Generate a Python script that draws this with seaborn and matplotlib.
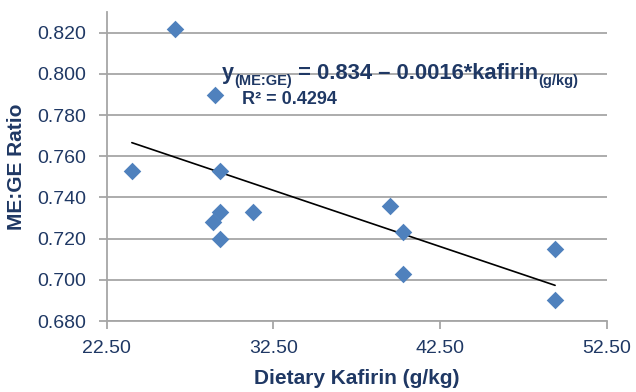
import matplotlib
matplotlib.use("Agg")
import matplotlib.pyplot as plt
import seaborn as sns
import numpy as np
import pandas as pd

kafirin = [24.0, 26.6, 29.0, 29.3, 28.9, 29.3, 29.3, 31.3, 39.5, 40.3, 40.3, 49.4, 49.4]
me_ge = [0.753, 0.822, 0.790, 0.753, 0.728, 0.733, 0.720, 0.733, 0.736, 0.723, 0.703, 0.715, 0.690]
x_ticks = [22.5, 32.5, 42.5, 52.5]
y_ticks = [0.680, 0.700, 0.720, 0.740, 0.760, 0.780, 0.800, 0.820]

df = pd.DataFrame({"kafirin": kafirin, "ratio": me_ge})

sns.set_theme(style="white")
plt.rcParams["font.family"] = ["Liberation Sans", "DejaVu Sans"]

navy = "#1F3864"
grid_c = "#A6A6A6"

fig = plt.figure(figsize=(6.36, 3.92), dpi=100)
ax = fig.add_axes([0.168, 0.181, 0.786, 0.788])

ax.set_axisbelow(True)
ax.yaxis.grid(True, color=grid_c, linewidth=1.3)
ax.xaxis.grid(False)

sns.regplot(data=df, x="kafirin", y="ratio", ax=ax, ci=None, truncate=True, marker="D",
            scatter_kws=dict(s=80, color="#4F81BD", alpha=1, linewidths=0, zorder=3),
            line_kws=dict(color="black", linewidth=1.2, zorder=2))

ax.set_xlim(22.5, 52.5)
ax.set_ylim(0.680, 0.830)
ax.set_xticks(x_ticks)
ax.set_xticklabels([f"{v:.2f}" for v in x_ticks])
ax.set_yticks(y_ticks)
ax.set_yticklabels([f"{v:.3f}" for v in y_ticks])

for s in ["top", "right"]:
    ax.spines[s].set_visible(False)
for s in ["left", "bottom"]:
    ax.spines[s].set_color(grid_c)
    ax.spines[s].set_linewidth(1.3)

ax.tick_params(axis="both", which="both", direction="out", length=6, width=1.3,
               color=grid_c, labelcolor=navy, labelsize=14)
ax.tick_params(axis="y", pad=9)
ax.tick_params(axis="x", pad=8)
ax.tick_params(bottom=True, left=True)

ax.set_xlabel("Dietary Kafirin (g/kg)", fontsize=15, fontweight="bold", color=navy)
ax.set_ylabel("ME:GE Ratio", fontsize=15, fontweight="bold", color=navy)
ax.xaxis.set_label_coords(0.5, -0.155)
ax.yaxis.set_label_coords(-0.162, 0.5)

# equation, built from pieces with subscripts
t1 = ax.text(0.229, 0.768, "y", transform=ax.transAxes, fontsize=15.5,
             fontweight="bold", color=navy, va="bottom", ha="left")
t2 = ax.annotate("(ME:GE)", xy=(1, 0), xycoords=t1, xytext=(0.5, -3.0), textcoords="offset points",
                 fontsize=10.5, fontweight="bold", color=navy, va="bottom", ha="left")
t3 = ax.annotate(" = 0.834 \u2013 0.0016*kafirin", xy=(1, 0), xycoords=(t2, t1),
                 fontsize=15.8, fontweight="bold", color=navy, va="bottom", ha="left")
t4 = ax.annotate("(g/kg)", xy=(1, 0), xycoords=(t3, t2), fontsize=10.5, fontweight="bold",
                 color=navy, va="bottom", ha="left")
ax.text(0.271, 0.716, "R\u00b2 = 0.4294", transform=ax.transAxes,
        fontsize=13, fontweight="bold", color=navy, va="center", ha="left")

fig.savefig("out.png", dpi=100)
